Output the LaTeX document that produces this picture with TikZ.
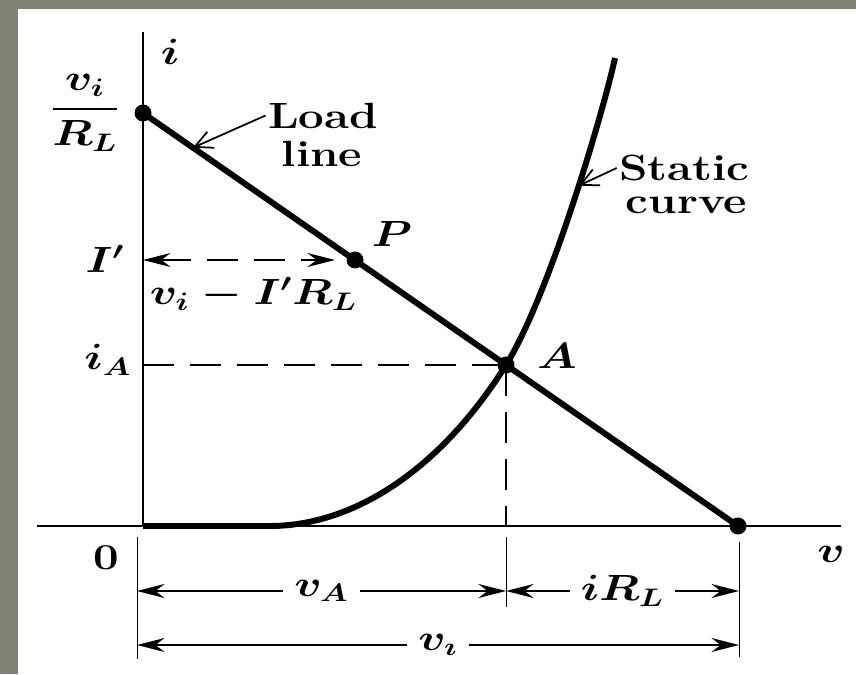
\documentclass[tikz,border=0pt]{standalone}
\usepackage{amsmath}
\usetikzlibrary{arrows.meta}
\definecolor{slidegray}{RGB}{127,132,118}

\begin{document}
\begin{tikzpicture}[x=1cm,y=1cm,line width=.35pt,font=\huge\bfseries\boldmath,
  lbl/.style={inner sep=1pt,xscale=1.25},
  gaplbl/.style={fill=white,inner xsep=.18cm,inner ysep=1pt,xscale=1.25},
  heavy/.style={line width=3.4pt},
  axis/.style={line width=1.4pt},
  guide/.style={line width=1.1pt,dash pattern=on .62cm off .32cm},
  dimline/.style={line width=.85pt,{Stealth[length=5.5mm,width=2.8mm,inset=1.8mm]}-{Stealth[length=5.5mm,width=2.8mm,inset=1.8mm]}},
  leader/.style={line width=1pt,-{Straight Barb[length=3.5mm,width=3.5mm]}}]
\fill[slidegray] (0,0) rectangle (17.12,13.48);
\fill[white] (0.36,0) rectangle (17.12,13.30);
\useasboundingbox (0,0) rectangle (17.12,13.48);
% axes
\coordinate (O) at (2.86,2.96);
\coordinate (itop) at (2.86,12.84);
\coordinate (vleft) at (0.74,2.96);
\coordinate (vright) at (16.82,2.96);
\draw[axis] (itop) -- (O);
\draw[axis] (vleft) -- (vright);
% load line and static curve
\coordinate (Y0) at (2.86,11.22);
\coordinate (X0) at (14.76,2.96);
\coordinate (P) at (7.10,8.28);
\coordinate (A) at (10.12,6.18);
\coordinate (knee) at (5.40,2.96);
\coordinate (top) at (12.30,12.32);
\draw[heavy] (Y0) -- (X0) coordinate[pos=.084] (lltip);
\draw[heavy] (O) -- (knee) .. controls (7.0,2.96) and (8.75,4.0) .. (A)
  .. controls (11.0,7.6) and (12.08,11.3) .. (top) coordinate[pos=.55] (sctip);
\foreach \pt in {Y0,X0,P,A} \fill (\pt) circle (0.17);
% guides
\coordinate (Ip) at (2.86,8.28);
\coordinate (iA) at (2.86,6.18);
\coordinate (Abase) at (10.12,2.96);
\draw[guide] (iA) -- (A);
\draw[guide] (A) -- (Abase);
\draw[guide,{Stealth[length=5.5mm,width=2.8mm,inset=1.8mm]}-{Stealth[length=5.5mm,width=2.8mm,inset=1.8mm]},shorten >=.4cm] (Ip) -- (P);
% dimension ticks
\draw (2.74,2.74) -- (2.74,0.30);
\draw (10.12,2.74) -- (10.12,1.34);
\draw (14.78,2.64) -- (14.78,0.34);
\coordinate (d1L) at (2.74,1.66);
\coordinate (d1M) at (10.12,1.66);
\coordinate (d1R) at (14.78,1.66);
\coordinate (d2L) at (2.74,0.58);
\coordinate (d2R) at (14.78,0.58);
\draw[dimline] (d1L) -- node[gaplbl] (vA) {$v_A$} (d1M);
\draw[dimline] (d1M) -- node[gaplbl] (iRL) {$iR_L$} (d1R);
\draw[dimline] (d2L) -- node[gaplbl] (vtot) {$v_\imath$} (d2R);
% labels
\node[lbl] (ilab) at (3.40,12.44) {$i$};
\node[lbl] (vlab) at (16.62,2.40) {$v$};
\node[lbl] (zero) at (2.12,2.32) {0};
\node[lbl] (frac) at (1.70,11.22) {$\dfrac{v_i}{R_L}$};
\node[lbl] (Iplab) at (2.10,8.30) {$I'$};
\node[lbl] (iAlab) at (2.16,6.28) {$i_A$};
\node[lbl] (Plab) at (7.84,8.80) {$P$};
\node[lbl] (Alab) at (11.14,6.36) {$A$};
\node[lbl] (diff) at (5.07,7.60) {$v_i - I'R_L$};
\node[lbl] (load) at (6.46,11.17) {Load};
\node[lbl] (line) at (6.44,10.41) {line};
\node[lbl] (static) at (13.69,10.12) {Static};
\node[lbl] (curve) at (13.73,9.37) {curve};
\draw[leader] (load.west) -- (lltip);
\draw[leader] (static.west) -- (sctip);
\end{tikzpicture}
\end{document}
